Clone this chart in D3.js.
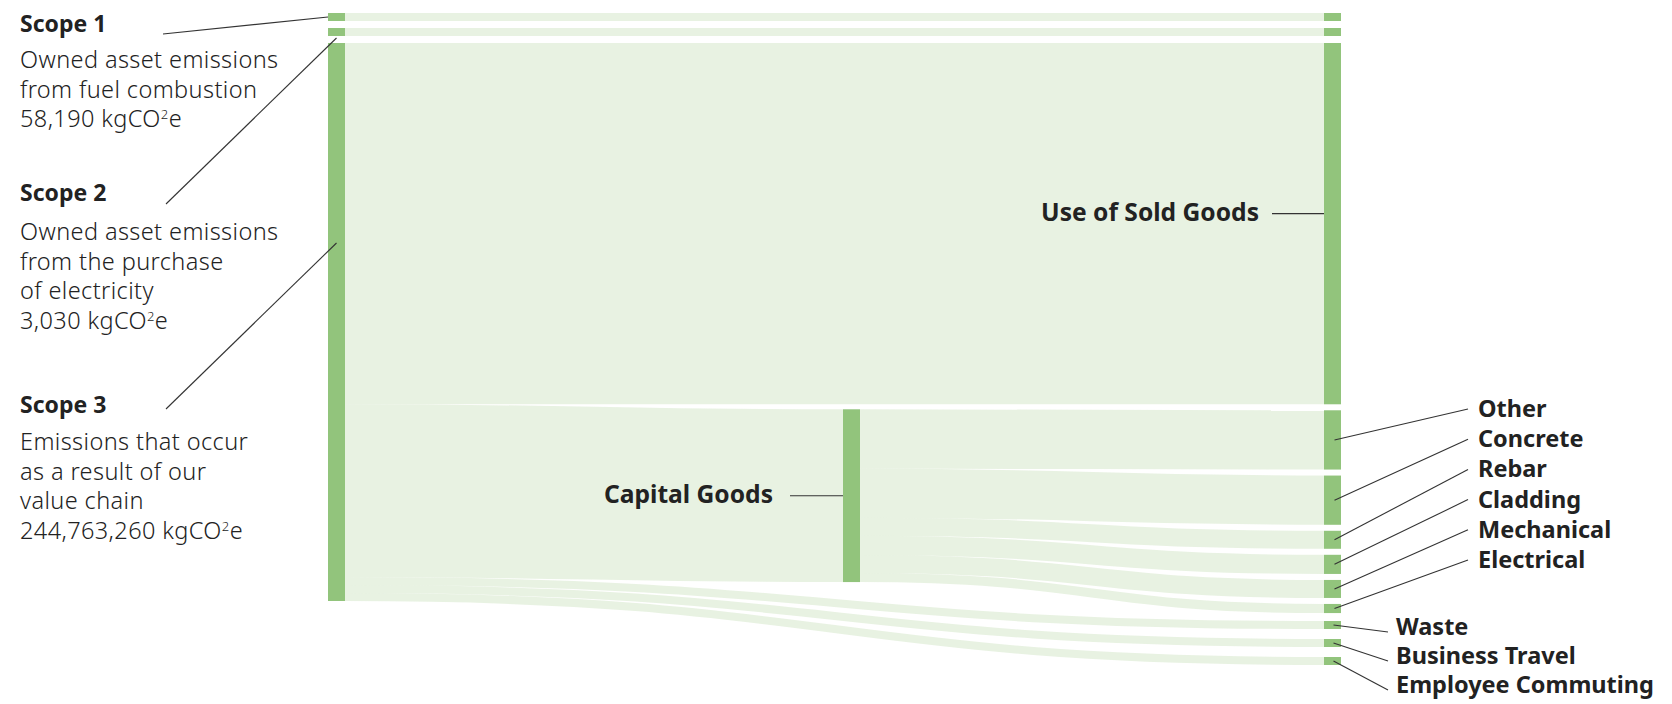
<!DOCTYPE html>
<html>
<head>
<meta charset="utf-8">
<script src="https://cdn.jsdelivr.net/npm/d3@7"></script>
<style>
    body { margin: 0; background: #fff; }
    svg { display: block; font-family: "Noto Sans", "Open Sans", sans-serif; }
    .title { font-weight: 700; font-size: 23px; fill: #222; }
    .note { font-weight: 300; font-size: 23.5px; letter-spacing: 0.4px; fill: #222; }
    .lbl { font-weight: 700; font-size: 23.5px; fill: #222; }
    .lbl.big { font-size: 24.6px; }
    .leader { stroke: #333; stroke-width: 1.1; fill: none; }
</style>
</head>
<body>
<script>
    //////////////// data ////////////////
    var scopeNames = ["Scope 1", "Scope 2", "Scope 3"];
    var scopeTotals = [58190, 3030, 244763260];
    var scopeNotes = [
        ["Owned asset emissions", "from fuel combustion"],
        ["Owned asset emissions", "from the purchase", "of electricity"],
        ["Emissions that occur", "as a result of our", "value chain"]
    ];
    var soldGoodsName = "Use of Sold Goods";
    var soldGoodsValue = 158500000;
    var capitalName = "Capital Goods";
    var capitalParts = ["Other", "Concrete", "Rebar", "Cladding", "Mechanical", "Electrical"];
    var capitalValues = [26000000, 21600000, 7900000, 8400000, 7900000, 4000000];
    var directParts = ["Waste", "Business Travel", "Employee Commuting"];
    var directValues = [3500000, 3500000, 3500000];

    //////////////// layout settings ////////////////
    var svgWidth = 1672, svgHeight = 704;
    var colX = [328, 843, 1324];
    var nodeWidth = 17;
    var topY = 13, bottomY = 665;
    var minH = 8;        // tiny flows still get a visible band
    var pad = 7, groupPad = 6, tailPad = 10;
    var scope3Height = 558;

    var scope3Sum = soldGoodsValue + d3.sum(capitalValues) + d3.sum(directValues);
    var ky = d3.scaleLinear().domain([0, scope3Sum]).range([0, scope3Height]);
    function bandH(v) { return Math.max(minH, ky(v)); }

    function makeNode(name, value, col) {
        return { name: name, value: value, x0: colX[col], x1: colX[col] + nodeWidth,
                 h: bandH(value), out: 0, inn: 0 };
    }
    function stackDown(list, y, gap) {
        list.forEach(function (n) { n.y0 = y; n.y1 = y + n.h; y = n.y1 + gap; });
        return y;
    }
    function stackUp(list, y, gap) {
        list.slice().reverse().forEach(function (n) { n.y1 = y; n.y0 = y - n.h; y = n.y0 - gap; });
    }

    // nodes
    var scopes = scopeNames.map(function (s, i) { return makeNode(s, scopeTotals[i], 0); });
    var scopeEnds = scopeNames.slice(0, 2).map(function (s, i) { return makeNode(s + " end", scopeTotals[i], 2); });
    var soldGoods = makeNode(soldGoodsName, soldGoodsValue, 2);
    var capital = makeNode(capitalName, d3.sum(capitalValues), 1);
    var capNodes = capitalParts.map(function (s, i) { return makeNode(s, capitalValues[i], 2); });
    var directNodes = directParts.map(function (s, i) { return makeNode(s, directValues[i], 2); });
    scopes[2].h = bandH(scope3Sum);

    stackDown(scopes, topY, pad);
    var yNext = stackDown(scopeEnds.concat([soldGoods]), topY, pad);
    stackDown(capNodes, yNext - pad + groupPad, groupPad);
    stackUp(directNodes, bottomY, tailPad);
    capital.y0 = capNodes[0].y0 - 1;
    capital.y1 = capital.y0 + capital.h;

    // links
    var links = [];
    function link(s, t, v) {
        var w = bandH(v);
        var l = { source: s, target: t, width: w,
                  sy: s.y0 + s.out + w / 2, ty: t.y0 + t.inn + w / 2 };
        s.out += w; t.inn += w;
        links.push(l);
    }
    link(scopes[0], scopeEnds[0], scopeTotals[0]);
    link(scopes[1], scopeEnds[1], scopeTotals[1]);
    link(scopes[2], soldGoods, soldGoodsValue);
    link(scopes[2], capital, d3.sum(capitalValues));
    directNodes.forEach(function (n, i) { link(scopes[2], n, directValues[i]); });
    capNodes.forEach(function (n, i) { link(capital, n, capitalValues[i]); });

    var allNodes = scopes.concat(scopeEnds, [soldGoods, capital], capNodes, directNodes);

    //////////////// draw ////////////////
    var svg = d3.select("body").append("svg")
        .attr("width", svgWidth)
        .attr("height", svgHeight);

    var linkPath = d3.linkHorizontal()
        .source(function (d) { return [d.source.x1, d.sy]; })
        .target(function (d) { return [d.target.x0, d.ty]; });

    svg.append("g")
        .selectAll("path")
        .data(links)
        .join("path")
        .attr("d", linkPath)
        .attr("fill", "none")
        .attr("stroke", "#8cc06f")
        .attr("stroke-opacity", 0.2)
        .attr("stroke-width", function (d) { return d.width; });

    svg.append("g")
        .selectAll("rect")
        .data(allNodes)
        .join("rect")
        .attr("x", function (d) { return d.x0; })
        .attr("y", function (d) { return d.y0; })
        .attr("width", nodeWidth)
        .attr("height", function (d) { return d.y1 - d.y0; })
        .attr("fill", "#92c47c");

    var fmt = d3.format(",");
    function mid(n) { return (n.y0 + n.y1) / 2; }
    function cx(n) { return (n.x0 + n.x1) / 2; }

    // left hand notes
    var titleY = [32, 201, 413];
    var noteY = [68, 240, 450];
    var lineH = 29.5;
    var notes = svg.append("g");
    scopes.forEach(function (n, i) {
        notes.append("text").attr("class", "title").attr("x", 20).attr("y", titleY[i]).text(n.name);
        var lines = scopeNotes[i];
        lines.forEach(function (t, j) {
            notes.append("text").attr("class", "note").attr("x", 20)
                .attr("y", noteY[i] + j * lineH).text(t);
        });
        var v = notes.append("text").attr("class", "note").attr("x", 20)
            .attr("y", noteY[i] + lines.length * lineH);
        v.append("tspan").text(fmt(scopeTotals[i]) + " kgCO");
        v.append("tspan").attr("dy", -8).style("font-size", "13px").text("2");
        v.append("tspan").attr("dy", 8).text("e");
    });

    var leaders = [
        [[163, 34], [scopes[0].x0, mid(scopes[0])]],
        [[166, 204], [cx(scopes[1]), scopes[1].y1 + 2]],
        [[166, 409], [cx(scopes[2]), scopes[2].y0 + 200]]
    ];

    // node labels
    var capMid = mid(capital);
    svg.append("text").attr("class", "lbl big").attr("x", 773).attr("y", capMid + 7)
        .attr("text-anchor", "end").text(capitalName);
    leaders.push([[790, capMid], [capital.x0, capMid]]);

    var sgY = mid(soldGoods) - 10;
    svg.append("text").attr("class", "lbl big").attr("x", 1259).attr("y", sgY + 7)
        .attr("text-anchor", "end").text(soldGoodsName);
    leaders.push([[1272, sgY], [soldGoods.x0, sgY]]);

    capNodes.forEach(function (n, i) {
        var by = 417 + i * 30.2;
        svg.append("text").attr("class", "lbl").attr("x", 1478).attr("y", by).text(n.name);
        leaders.push([[1468, by - 8], [cx(n) + 2, mid(n)]]);
    });
    directNodes.forEach(function (n, i) {
        var by = 635 + i * 29;
        svg.append("text").attr("class", "lbl").attr("x", 1396).attr("y", by).text(n.name);
        leaders.push([[cx(n) + 1, mid(n)], [1388, by - 3]]);
    });

    svg.append("g")
        .selectAll("path")
        .data(leaders)
        .join("path")
        .attr("class", "leader")
        .attr("d", function (d) { return d3.line()(d); });
</script>
</body>
</html>
